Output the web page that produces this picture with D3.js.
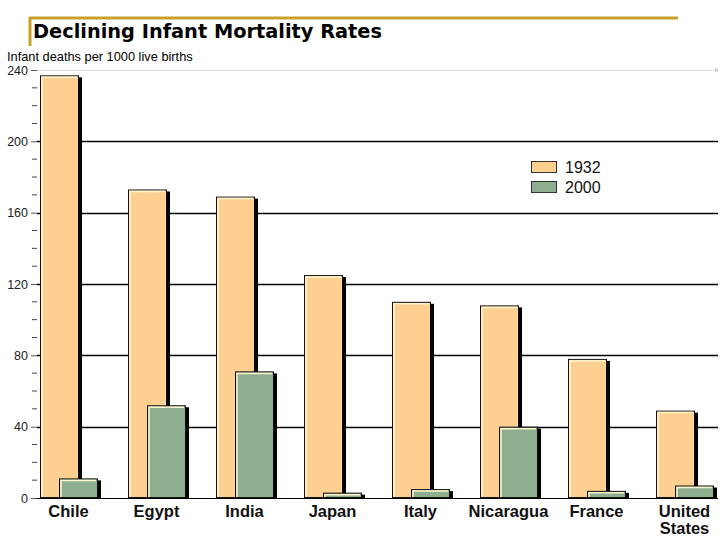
<!DOCTYPE html>
<html>
<head>
<meta charset="utf-8">
<script src="https://cdn.jsdelivr.net/npm/d3@7"></script>
<style>
  body { margin: 0; background: #fff; }
  svg { display: block; }
</style>
</head>
<body>
<svg id="chart" width="720" height="540"></svg>
<script>
// chart data
var countries = ["Chile", "Egypt", "India", "Japan", "Italy", "Nicaragua", "France", "United States"];
var years = ["1932", "2000"];
var rate1932 = [237, 173, 169, 125, 110, 108, 78, 49];
var rate2000 = [11, 52, 71, 3, 5, 40, 4, 7];
var yTicks = [0, 40, 80, 120, 160, 200, 240];

var colors = {"1932": "#fdcf90", "2000": "#8dae8f"};

var svg = d3.select("#chart");

var x0 = d3.scaleBand()
    .domain(countries)
    .range([25, 729])
    .padding(0);

// position of each year inside a group (bars overlap)
var x1 = d3.scalePoint()
    .domain(years)
    .range([15, 34]);

var barW = 39;

var y = d3.scaleLinear()
    .domain([0, 240])
    .range([498, 70]);

// title with the gold rule
svg.append("line")
    .attr("x1", 29).attr("x2", 678)
    .attr("y1", 18).attr("y2", 18)
    .attr("stroke", "#c9a12a").attr("stroke-width", 3);
svg.append("line")
    .attr("x1", 30).attr("x2", 30)
    .attr("y1", 17).attr("y2", 46)
    .attr("stroke", "#c9a12a").attr("stroke-width", 3);
svg.append("text")
    .attr("x", 33).attr("y", 38)
    .attr("font-family", "DejaVu Sans Condensed, DejaVu Sans")
    .attr("font-weight", "bold")
    .attr("font-size", 20)
    .attr("textLength", 349)
    .attr("lengthAdjust", "spacingAndGlyphs")
    .attr("fill", "#000")
    .text("Declining Infant Mortality Rates");

// axis title
svg.append("text")
    .attr("x", 7).attr("y", 61)
    .attr("font-family", "Liberation Sans, Arial")
    .attr("font-size", 12.8)
    .text("Infant deaths per 1000 live births");

// grid lines
svg.append("g")
    .selectAll("line")
    .data(yTicks.filter(function(d){ return d > 0; }))
    .join("line")
    .attr("x1", 37).attr("x2", 718)
    .attr("y1", function(d){ return Math.round(y(d)) + 0.5; })
    .attr("y2", function(d){ return Math.round(y(d)) + 0.5; })
    .attr("stroke", function(d){ return d == 240 ? "#dedede" : "#000"; })
    .attr("stroke-width", function(d){ return d == 240 ? 1 : 1.4; });

svg.append("rect")
    .attr("x", 715).attr("y", y(240) - 1.5)
    .attr("width", 3).attr("height", 3)
    .attr("fill", "#c8c8c8");

// y axis: labelled ticks every 40, minor ticks every 10
var yAxis = d3.axisLeft(y)
    .tickValues(yTicks)
    .tickSize(6)
    .tickPadding(3);
var gy = svg.append("g")
    .attr("transform", "translate(37,0)")
    .call(yAxis);
gy.select(".domain").remove();
gy.selectAll(".tick line").attr("stroke", "#555");
gy.selectAll(".tick text")
    .attr("font-family", "Liberation Sans, Arial")
    .attr("font-size", 12.5)
    .attr("fill", "#222");

var minor = d3.range(10, 240, 10).filter(function(d){ return d % 40 != 0; });
svg.append("g")
    .selectAll("line")
    .data(minor)
    .join("line")
    .attr("x1", 32).attr("x2", 37)
    .attr("y1", function(d){ return y(d); })
    .attr("y2", function(d){ return y(d); })
    .attr("stroke", "#444")
    .attr("stroke-width", 1);

// bars
var rows = countries.map(function(c, i){
    return {country: c, values: [
        {year: "1932", value: rate1932[i]},
        {year: "2000", value: rate2000[i]}
    ]};
});

var groups = svg.append("g")
    .selectAll("g")
    .data(rows)
    .join("g")
    .attr("transform", function(d){ return "translate(" + x0(d.country) + ",0)"; });

groups.each(function(d){
    var g = d3.select(this);
    d.values.forEach(function(v){
        var bx = x1(v.year);
        var by = y(v.value);
        var bh = y(0) - by;
        // drop shadow
        g.append("rect")
            .attr("x", bx + 3).attr("y", by + 2)
            .attr("width", barW).attr("height", Math.max(bh - 2, 0))
            .attr("fill", "#000");
        // bar
        g.append("rect")
            .attr("x", bx + 0.5).attr("y", by + 0.5)
            .attr("width", barW - 1).attr("height", Math.max(bh - 1, 0))
            .attr("fill", colors[v.year])
            .attr("stroke", "#111")
            .attr("stroke-width", 1);
        // light bevel on left and top
        g.append("path")
            .attr("d", "M" + (bx + 2) + "," + (y(0) - 1) + "V" + (by + 2) + "H" + (bx + barW - 2))
            .attr("fill", "none")
            .attr("stroke", "#fff6cf")
            .attr("stroke-width", 1.5);
    });
});

// base line
svg.append("line")
    .attr("x1", 37).attr("x2", 718)
    .attr("y1", y(0) + 0.5).attr("y2", y(0) + 0.5)
    .attr("stroke", "#000").attr("stroke-width", 1.2);

// category labels
var labels = svg.append("g")
    .selectAll("text")
    .data(countries)
    .join("text")
    .attr("x", function(d){ return x0(d) + x0.bandwidth() / 2 - 0.5; })
    .attr("y", 517)
    .attr("text-anchor", "middle")
    .attr("font-family", "Liberation Sans, Arial")
    .attr("font-weight", "bold")
    .attr("font-size", 16.5)
    .attr("fill", "#111");

labels.each(function(d){
    var t = d3.select(this);
    var parts = d.split(" ");
    parts.forEach(function(p, i){
        t.append("tspan")
            .attr("x", t.attr("x"))
            .attr("dy", i == 0 ? 0 : 17)
            .text(p);
    });
});

// legend
var legend = svg.append("g")
    .selectAll("g")
    .data(years)
    .join("g")
    .attr("transform", function(d, i){ return "translate(531," + (161 + i * 20) + ")"; });
legend.append("rect")
    .attr("x", 0.5).attr("y", 0.5)
    .attr("width", 25).attr("height", 11)
    .attr("fill", function(d){ return colors[d]; })
    .attr("stroke", "#333");
legend.append("text")
    .attr("x", 34).attr("y", 12)
    .attr("font-family", "Liberation Sans, Arial")
    .attr("font-size", 16)
    .attr("fill", "#111")
    .text(function(d){ return d; });
</script>
</body>
</html>
